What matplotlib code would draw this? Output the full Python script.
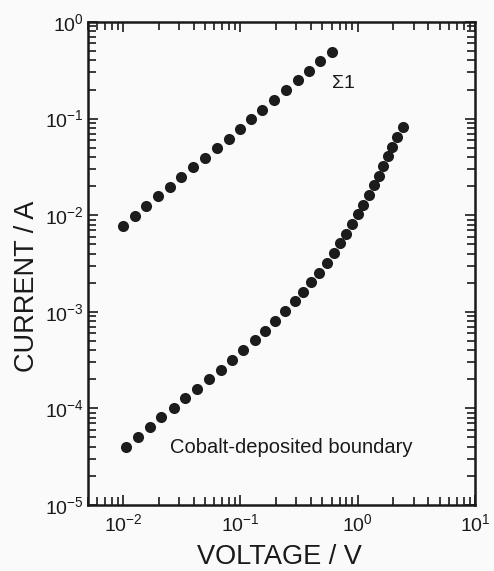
import matplotlib
matplotlib.use("Agg")
import matplotlib.pyplot as plt
from matplotlib.ticker import LogLocator, LogFormatterSciNotation, NullFormatter

plt.rcParams["font.family"] = ["Liberation Sans", "DejaVu Sans"]
plt.rcParams["mathtext.fontset"] = "custom"
plt.rcParams["mathtext.rm"] = "Liberation Sans"
plt.rcParams["mathtext.it"] = "Liberation Sans"
plt.rcParams["mathtext.bf"] = "Liberation Sans"
plt.rcParams["mathtext.default"] = "regular"

# Sigma-1 grain boundary: voltage (V) and current (A)
sigma1_voltage = [0.0100, 0.0126, 0.0156, 0.0199, 0.0249, 0.0313, 0.0396, 0.0501,
                  0.0628, 0.0795, 0.0998, 0.124, 0.154, 0.192, 0.245, 0.308,
                  0.385, 0.475, 0.609]
sigma1_current = [7.8e-3, 9.9e-3, 1.24e-2, 1.57e-2, 1.96e-2, 2.49e-2, 3.13e-2, 3.94e-2,
                  4.91e-2, 6.18e-2, 7.85e-2, 9.95e-2, 0.123, 0.156, 0.198, 0.250,
                  0.312, 0.395, 0.493]

# Cobalt-deposited boundary: voltage (V) and current (A)
cobalt_voltage = [0.0106, 0.0134, 0.0168, 0.0211, 0.0269, 0.0336, 0.0428, 0.0539,
                  0.0679, 0.0853, 0.106, 0.132, 0.162, 0.197, 0.240, 0.289,
                  0.342, 0.403, 0.469, 0.542, 0.627, 0.705, 0.793, 0.892,
                  0.996, 1.114, 1.254, 1.370, 1.527, 1.657, 1.803, 1.944,
                  2.174, 2.413]
cobalt_current = [4.02e-5, 5.09e-5, 6.37e-5, 8.09e-5, 1.016e-4, 1.27e-4, 1.59e-4, 2.00e-4,
                  2.50e-4, 3.17e-4, 4.03e-4, 5.11e-4, 6.37e-4, 8.03e-4, 1.02e-3, 1.29e-3,
                  1.61e-3, 2.05e-3, 2.54e-3, 3.22e-3, 4.03e-3, 5.12e-3, 6.38e-3, 8.11e-3,
                  1.02e-2, 1.28e-2, 1.62e-2, 2.04e-2, 2.56e-2, 3.25e-2, 4.07e-2, 5.12e-2,
                  6.45e-2, 8.15e-2]

bg = "#fafafa"
fig = plt.figure(figsize=(4.94, 5.71), dpi=100, facecolor=bg)
ax = fig.add_axes([0.178, 0.1156, 0.7835, 0.8459], facecolor=bg)

mk = dict(linestyle="none", marker="o", markersize=8.0, color="#1c1c1c",
          markeredgewidth=0)
ax.plot(sigma1_voltage, sigma1_current, **mk)
ax.plot(cobalt_voltage, cobalt_current, **mk)

ax.set_xscale("log")
ax.set_yscale("log")
ax.set_xlim(5e-3, 10)
ax.set_ylim(1e-5, 1)

ax.xaxis.set_major_locator(LogLocator(base=10, numticks=10))
ax.yaxis.set_major_locator(LogLocator(base=10, numticks=10))
ax.xaxis.set_minor_locator(LogLocator(base=10, subs=range(2, 10), numticks=20))
ax.yaxis.set_minor_locator(LogLocator(base=10, subs=range(2, 10), numticks=20))
ax.xaxis.set_major_formatter(LogFormatterSciNotation())
ax.yaxis.set_major_formatter(LogFormatterSciNotation())
ax.xaxis.set_minor_formatter(NullFormatter())
ax.yaxis.set_minor_formatter(NullFormatter())

for s in ax.spines.values():
    s.set_linewidth(1.8)
    s.set_color("#1a1a1a")

ax.tick_params(which="both", direction="in", top=True, right=True,
               color="#1a1a1a", width=1.2, labelsize=14, labelcolor="#1a1a1a")
ax.tick_params(which="major", length=7)
ax.tick_params(which="minor", length=5.5)
ax.tick_params(axis="x", which="major", pad=6)
ax.tick_params(axis="y", which="major", pad=3)

ax.set_xlabel("VOLTAGE / V", fontsize=19.5, color="#1a1a1a", va="center")
ax.set_ylabel("CURRENT / A", fontsize=19.5, color="#1a1a1a", va="center")
ax.xaxis.set_label_coords(0.496, -0.108)
ax.yaxis.set_label_coords(-0.158, 0.453)

ax.text(0.6, 0.23, "\u03a31", fontsize=14, color="#1a1a1a", va="center", ha="left")
ax.text(0.025, 3.9e-5, "Cobalt-deposited boundary", fontsize=14.5,
        color="#1a1a1a", va="center", ha="left")

fig.savefig("out.png", dpi=100, facecolor=bg)
